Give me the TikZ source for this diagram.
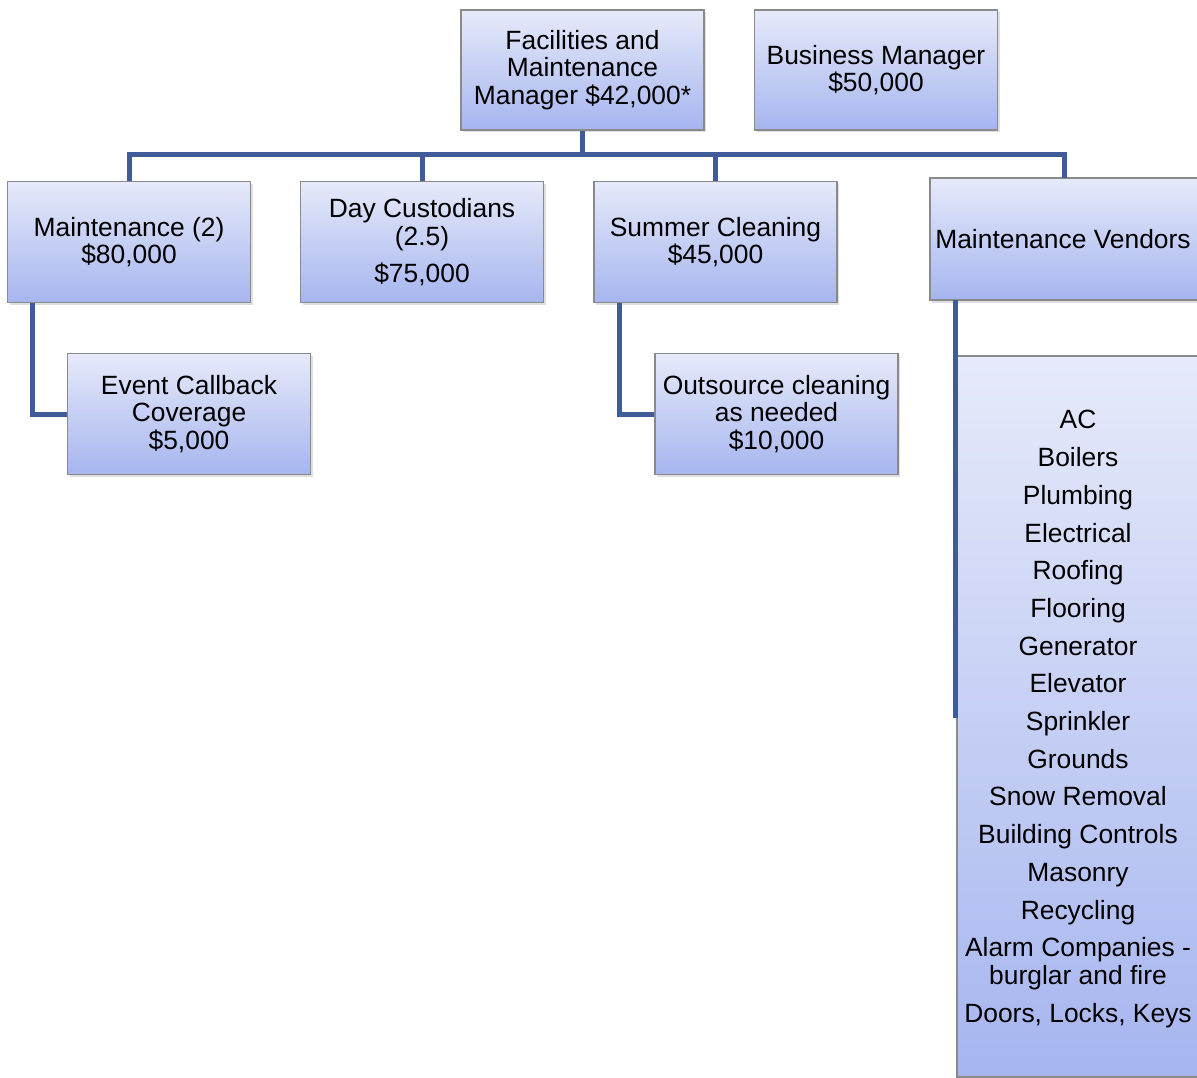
\documentclass[tikz,border=0pt]{standalone}
\usepackage{fontspec}
\setmainfont{Liberation Sans}
\usetikzlibrary{shadows}
\definecolor{topc}{HTML}{E6EAFA}
\definecolor{botc}{HTML}{A6B5EF}
\definecolor{linec}{HTML}{3F5B98}
\definecolor{edgec}{HTML}{8A8A8A}
\tikzset{
  orgbox/.style={draw=edgec, line width=1.2pt, top color=topc, bottom color=botc,
    minimum width=243pt, minimum height=121pt, inner sep=0pt, align=center,
    font=\fontsize{26.4}{27.6}\selectfont,
    drop shadow={shadow xshift=2pt, shadow yshift=-2.5pt, opacity=0.25}},
  txt/.style={align=center, inner sep=0pt, font=\fontsize{26.4}{27.6}\selectfont},
  conn/.style={draw=linec, line width=5pt, line join=miter}
}
\begin{document}
\begin{tikzpicture}[x=1pt,y=-1pt]
\useasboundingbox (0,0) rectangle (1197,1078);
\clip (0,0) rectangle (1197,1078);

\node[orgbox, minimum height=120pt] (fm) at (582.5,70) {Facilities and\\Maintenance\\Manager \$42,000*};
\node[orgbox, minimum height=120pt] (bm) at (876,70) {Business Manager\\\$50,000};
\node[orgbox] (m2) at (129,242) {Maintenance (2)\\\$80,000};
\node[orgbox] (dc) at (422,242) {Day Custodians\\(2.5)\\[9.5pt]\$75,000};
\node[orgbox] (sc) at (715.5,242) {Summer Cleaning\\\$45,000};
\node[orgbox, minimum width=280pt, minimum height=122pt] (mv) at (1070,239) {};
\node[txt] (mvt) at (1063,239) {Maintenance Vendors};
\node[orgbox] (ev) at (189,414) {Event Callback\\Coverage\\\$5,000};
\node[orgbox] (os) at (776.5,414) {Outsource cleaning\\as needed\\\$10,000};
\node[orgbox, minimum width=253pt, minimum height=721pt] (vl) at (1083.5,716.5) {};
\node[txt] (vlt) at (1078,719) {AC\\[10.1pt]Boilers\\[10.1pt]Plumbing\\[10.1pt]Electrical\\[10.1pt]Roofing\\[10.1pt]Flooring\\[10.1pt]Generator\\[10.1pt]Elevator\\[10.1pt]Sprinkler\\[10.1pt]Grounds\\[10.1pt]Snow Removal\\[10.1pt]Building Controls\\[10.1pt]Masonry\\[10.1pt]Recycling\\[10.1pt]Alarm Companies -\\burglar and fire\\[10.1pt]Doors, Locks, Keys};

\coordinate (mL) at (32,302.5);
\coordinate (sL) at (619,302.5);
\coordinate (mvTop) at (1064,178);
\coordinate (vT) at (955,300);
\coordinate (vB) at (955,718);

\draw[conn] (fm.south) -- ++(0,25);
\draw[conn] (m2.north) -- ++(0,-26.5) -| (mvTop);
\draw[conn] (dc.north) -- ++(0,-26.5);
\draw[conn] (sc.north) -- ++(0,-26.5);
\draw[conn] (mL) |- (ev.west);
\draw[conn] (sL) |- (os.west);
\draw[conn] (vT) -- (vB);
\end{tikzpicture}
\end{document}
